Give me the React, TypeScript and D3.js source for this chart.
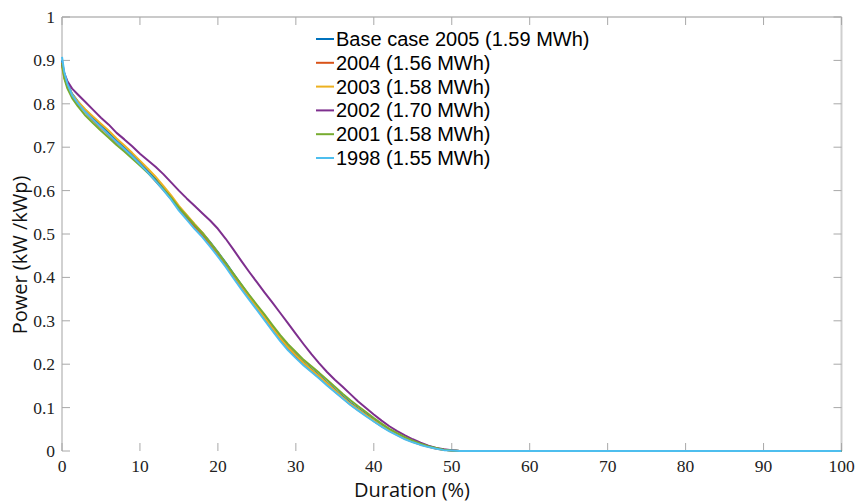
import React from "react";
import * as d3 from "d3";

const durations = [0, 0.3, 0.7, 1.3, 2, 3, 4, 5, 6, 7, 8, 9, 10, 11, 12, 13, 14, 15, 16, 17, 18, 19, 20, 21, 22, 23, 24, 25, 26, 27, 28, 29, 30, 31, 32, 33, 34, 35, 36, 37, 38, 39, 40, 41, 42, 43, 44, 45, 46, 47, 48, 49, 50, 51, 100];

const base2005 = [0.900,0.868,0.845,0.823,0.806,0.785,0.767,0.750,0.733,0.715,0.699,0.682,
  0.664,0.646,0.627,0.607,0.586,0.562,0.542,0.522,0.503,0.481,0.458,0.434,0.408,0.383,0.358,0.334,0.310,0.285,0.261,0.240,0.222,0.204,0.189,0.174,0.158,0.142,0.126,0.111,0.098,0.085,0.072,0.060,0.049,0.039,0.030,0.022,0.016,0.011,0.006,0.003,0.001,
  0,0];
const y2004 = [0.895,0.862,0.840,0.818,0.801,0.781,0.762,0.745,0.728,0.711,0.695,0.678,
  0.660,0.642,0.622,0.602,0.581,0.557,0.537,0.516,0.497,0.475,0.452,0.428,0.402,0.377,0.352,0.328,0.304,0.279,0.256,0.235,0.217,0.199,0.184,0.169,0.153,0.137,0.122,0.107,0.094,0.082,0.069,0.057,0.047,0.037,0.028,0.021,0.015,0.010,0.005,0.003,0.001,
  0,0];
const y2003 = [0.885,0.860,0.842,0.822,0.806,0.787,0.770,0.754,0.738,0.720,0.704,0.687,
  0.669,0.651,0.632,0.611,0.589,0.565,0.544,0.523,0.503,0.480,0.457,0.432,0.406,0.381,0.356,0.332,0.308,0.284,0.260,0.239,0.221,0.203,0.187,0.172,0.156,0.140,0.124,0.109,0.096,0.083,0.070,0.058,0.047,0.038,0.029,0.021,0.015,0.010,0.006,0.003,0.001,
  0,0];
const y2002 = [0.890,0.870,0.852,0.835,0.822,0.804,0.786,0.768,0.752,0.733,0.718,0.702,
  0.685,0.670,0.655,0.638,0.619,0.600,0.582,0.565,0.548,0.531,0.512,0.489,0.464,0.438,0.413,0.389,0.365,0.342,0.318,0.294,0.270,0.246,0.223,0.202,0.182,0.164,0.148,0.131,0.114,0.099,0.084,0.070,0.057,0.046,0.036,0.027,0.019,0.012,0.007,0.004,0.002,
  0,0];
const y2001 = [0.893,0.858,0.835,0.813,0.795,0.773,0.755,0.738,0.722,0.705,0.690,0.674,
  0.658,0.641,0.623,0.604,0.584,0.561,0.541,0.521,0.502,0.480,0.457,0.433,0.408,0.384,0.360,0.337,0.314,0.290,0.267,0.246,0.228,0.210,0.195,0.180,0.164,0.148,0.132,0.117,0.103,0.090,0.076,0.063,0.051,0.041,0.032,0.024,0.017,0.011,0.007,0.003,0.001,
  0,0];
const y1998 = [0.908,0.872,0.846,0.820,0.802,0.781,0.763,0.746,0.729,0.712,0.696,0.679,
  0.661,0.642,0.622,0.601,0.579,0.554,0.533,0.512,0.493,0.471,0.448,0.424,0.398,0.373,0.349,0.325,0.301,0.277,0.253,0.232,0.214,0.197,0.182,0.167,0.151,0.136,0.121,0.106,0.093,0.080,0.068,0.056,0.045,0.036,0.027,0.020,0.014,0.009,0.005,0.002,0.001,
  0,0];

const seriesNames = ["Base case 2005 (1.59 MWh)", "2004 (1.56 MWh)", "2003 (1.58 MWh)", "2002 (1.70 MWh)", "2001 (1.58 MWh)", "1998 (1.55 MWh)"];
const seriesValues = [base2005, y2004, y2003, y2002, y2001, y1998];
const seriesColors = ["#0072BD", "#D95319", "#EDB120", "#7E2F8E", "#77AC30", "#4DBEEE"];

const xTicks = [0, 10, 20, 30, 40, 50, 60, 70, 80, 90, 100];
const yTicks = [0, 0.1, 0.2, 0.3, 0.4, 0.5, 0.6, 0.7, 0.8, 0.9, 1];

const W = 856, H = 504;
const L = 62, R = 841.5, T = 17, B = 451;

export default function App() {
  const x = d3.scaleLinear().domain([0, 100]).range([L, R]);
  const y = d3.scaleLinear().domain([0, 1]).range([B, T]);
  const line = d3.line<number>().x((_, i) => x(durations[i])).y((d) => y(d));
  const axisColor = "#b8b8b8";
  const tickColor = "#a8a8a8";
  const tickLen = 8;
  const serif = { fontFamily: "'Liberation Serif', 'DejaVu Serif', serif" };
  const sans = { fontFamily: "'Open Sans', 'DejaVu Sans', sans-serif" };
  const arial = { fontFamily: "'Liberation Sans', Arial, sans-serif" };
  return (
    <svg width={W} height={H} style={{ position: "fixed", left: 0, top: 0, background: "#fff" }}>
      <rect x={0} y={0} width={W} height={H} fill="#fff" />
      <line x1={L} x2={R} y1={T} y2={T} stroke={axisColor} strokeWidth={1.3} />
      <line x1={R} x2={R} y1={T} y2={B} stroke="#cfcfcf" strokeWidth={2} />
      <line x1={L} x2={L} y1={T} y2={B} stroke={axisColor} strokeWidth={1.3} />
      {xTicks.map((t) => (
        <g key={"xt" + t}>
          <line x1={x(t)} x2={x(t)} y1={B} y2={B - tickLen} stroke={tickColor} strokeWidth={1} />
          <line x1={x(t)} x2={x(t)} y1={T} y2={T + tickLen} stroke={tickColor} strokeWidth={1} />
          <text x={x(t)} y={472} textAnchor="middle" style={serif} fontSize={17.5} fill="#222">{t}</text>
        </g>
      ))}
      {yTicks.map((t) => (
        <g key={"yt" + t}>
          <line x1={L} x2={L + tickLen} y1={y(t)} y2={y(t)} stroke={tickColor} strokeWidth={1} />
          <line x1={R} x2={R - tickLen} y1={y(t)} y2={y(t)} stroke={tickColor} strokeWidth={1} />
          <text x={55} y={y(t) + 6} textAnchor="end" style={serif} fontSize={17.5} fill="#222">{d3.format("~g")(t)}</text>
        </g>
      ))}
      {seriesValues.map((vals, i) => (
        <path key={"s" + i} d={line(vals) || ""} fill="none" stroke={seriesColors[i]} strokeWidth={2} strokeLinejoin="round" />
      ))}
      <text x={412} y={497} textAnchor="middle" style={sans} fontSize={20} fill="#111">Duration (%)</text>
      <text transform={`translate(27,255) rotate(-90)`} textAnchor="middle" style={sans} fontSize={20} fill="#111">Power (kW /kWp)</text>
      {seriesNames.map((n, i) => (
        <g key={"lg" + i} transform={`translate(316,${39 + i * 23.8})`}>
          <line x1={0} x2={18} y1={0} y2={0} stroke={seriesColors[i]} strokeWidth={2} />
          <text x={20} y={7} style={arial} fontSize={20} fill="#000">{n}</text>
        </g>
      ))}
    </svg>
  );
}
